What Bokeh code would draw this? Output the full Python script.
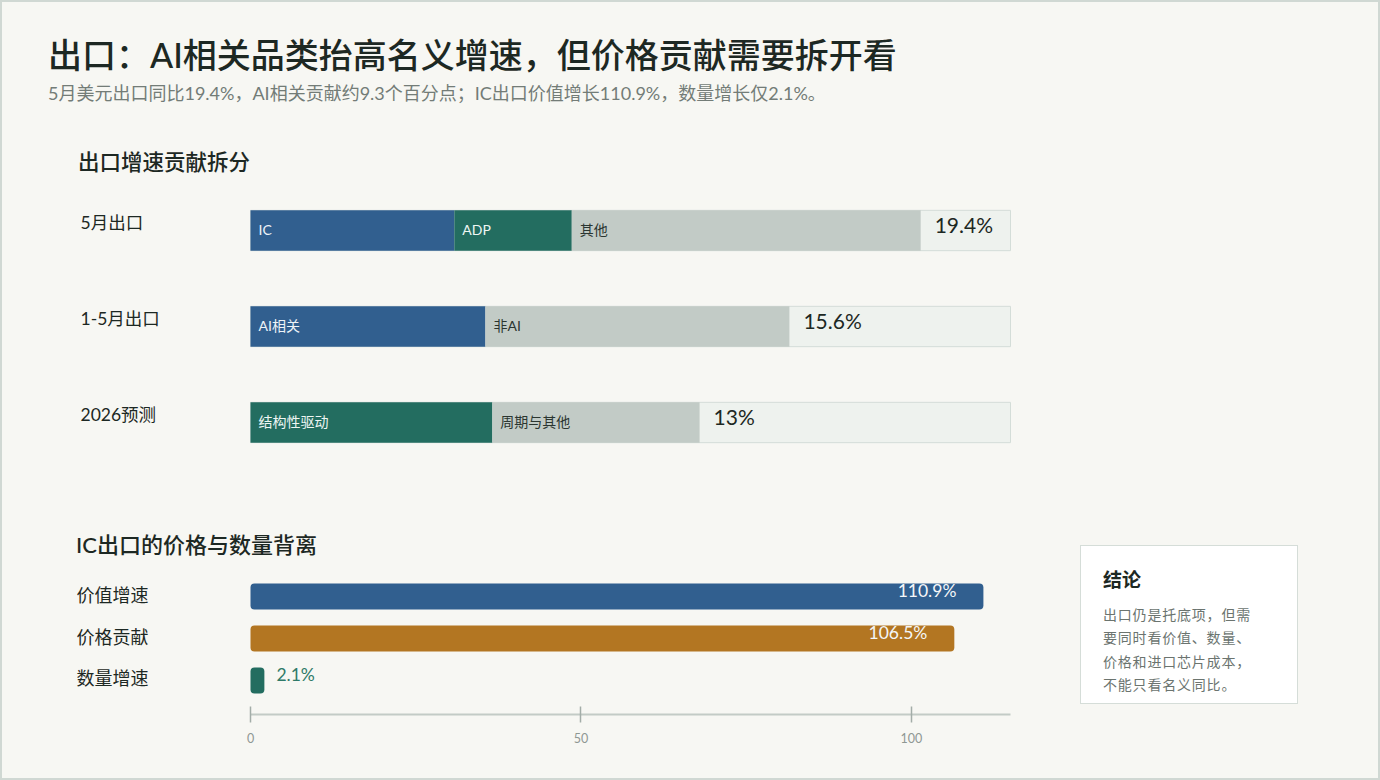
import pandas as pd
from bokeh.plotting import figure
from bokeh.models import ColumnDataSource, FactorRange, Range1d, FixedTicker, Div
from bokeh.layouts import column, row
from bokeh.core.properties import value
from bokeh.embed import file_html
from bokeh.resources import INLINE

# ---------------- data ----------------
title_text = "出口：AI相关品类抬高名义增速，但价格贡献需要拆开看"
subtitle_text = "5月美元出口同比19.4%，AI相关贡献约9.3个百分点；IC出口价值增长110.9%，数量增长仅2.1%。"
section1_title = "出口增速贡献拆分"
section2_title = "IC出口的价格与数量背离"

rows_top = ["5月出口", "1-5月出口", "2026预测"]
totals_top = [19.4, 15.6, 13.0]
total_labels = ["19.4%", "15.6%", "13%"]

seg_rows = ["5月出口", "5月出口", "5月出口", "1-5月出口", "1-5月出口", "2026预测", "2026预测"]
seg_names = ["IC", "ADP", "其他", "AI相关", "非AI", "结构性驱动", "周期与其他"]
seg_values = [5.9, 3.4, 10.1, 6.8, 8.8, 7.0, 6.0]
seg_kind = ["blue", "green", "gray", "blue", "gray", "green", "gray"]
track_max = 22

ic_cats = ["价值增速", "价格贡献", "数量增速"]
ic_values = [110.9, 106.5, 2.1]
ic_labels = ["110.9%", "106.5%", "2.1%"]
ic_kind = ["blue", "orange", "green"]
ic_ticks = [0, 50, 100]
ic_axis_max = 115

conclusion_title = "结论"
conclusion_lines = ["出口仍是托底项，但需", "要同时看价值、数量、", "价格和进口芯片成本，", "不能只看名义同比。"]

# ---------------- style ----------------
FONT = "Lato, 'Noto Sans CJK SC', sans-serif"
BG = "#f7f7f3"
FRAME = "#d0d8d3"
DARK = "#1d2823"
MUTED = "#737c77"
FILL = {"blue": "#315f8f", "green": "#236d60", "gray": "#c2cbc6", "orange": "#b37622"}
SEG_TXT = {"blue": "#eef3f8", "green": "#eef6f3", "gray": "#2b3631"}
TRACK = "#eef2ee"
TRACK_LINE = "#d4ddd8"

PAGE_W, PAGE_H = 1380, 780
INSET = 2                     # page frame thickness
W = PAGE_W - 2 * INSET        # inner width
X0_PX = 250 - INSET           # pixel position of value 0 inside the figures
TRACK_PX = 760                # pixel width of the value scale
H_HEAD = 182 - INSET
H_TOP = 288
H_SEC2 = 92
H_BOT = PAGE_H - INSET - 182 - H_TOP - H_SEC2

# ---------------- header ----------------
header = Div(
    text=f"""<div style="font-family:{FONT};">
<div style="margin:33px 0 0 46px;font-size:34px;line-height:40px;color:{DARK};white-space:nowrap;font-weight:500;">{title_text}</div>
<div style="margin:6px 0 0 46px;font-size:18px;line-height:24px;color:{MUTED};white-space:nowrap;">{subtitle_text}</div>
<div style="margin:43px 0 0 76px;font-size:21.5px;line-height:28px;color:{DARK};white-space:nowrap;font-weight:500;">{section1_title}</div>
</div>""",
    width=W, height=H_HEAD, margin=(INSET, INSET, 0, INSET),
)

# ---------------- top stacked bars ----------------
df = pd.DataFrame({"row": seg_rows, "name": seg_names, "val": seg_values, "kind": seg_kind})
df["right"] = df.groupby("row", sort=False)["val"].cumsum()
df["left"] = df["right"] - df["val"]
df["fill"] = df["kind"].map(FILL)
df["tcolor"] = df["kind"].map(SEG_TXT)
src = ColumnDataSource(df)

sc = TRACK_PX / track_max
pt = figure(
    width=W, height=H_TOP,
    x_range=Range1d(-X0_PX / sc, (W - X0_PX) / sc),
    y_range=FactorRange(factors=rows_top[::-1], range_padding=0),
    x_axis_type=None, y_axis_type=None,
    output_backend="svg", toolbar_location=None,
    min_border=0, background_fill_color=BG, border_fill_color=BG,
    outline_line_color=None, margin=(0, INSET, 0, INSET),
)
pt.grid.visible = False
pt.hbar(y=rows_top, left=0, right=track_max, height=0.42,
        fill_color=TRACK, line_color=TRACK_LINE, line_width=1)
pt.hbar(y="row", left="left", right="right", height=0.42,
        fill_color="fill", line_color=None, source=src)
pt.text(x="left", y="row", text="name", source=src, x_offset=8, y_offset=-1,
        text_align="left", text_baseline="middle", text_color="tcolor",
        text_font_size="14px", text_font=value(FONT))
pt.text(x=totals_top, y=rows_top, text=total_labels, x_offset=14, y_offset=-6,
        text_align="left", text_baseline="middle", text_color=DARK,
        text_font_size="21px", text_font=value(FONT))
pt.text(x=[0] * len(rows_top), y=rows_top, text=rows_top, x_offset=-170, y_offset=-8,
        text_align="left", text_baseline="middle", text_color=DARK,
        text_font_size="17.5px", text_font=value(FONT))

# ---------------- bottom bars ----------------
BW = 1050 - INSET
sec2 = Div(
    text=f"""<div style="font-family:{FONT};margin:61px 0 0 74px;font-size:22px;line-height:28px;color:{DARK};white-space:nowrap;font-weight:500;">{section2_title}</div>""",
    width=BW, height=H_SEC2, margin=(0, 0, 0, 0),
)

sb = TRACK_PX / ic_axis_max
pb = figure(
    width=BW, height=H_BOT,
    x_range=Range1d(-X0_PX / sb, (BW - X0_PX) / sb),
    y_range=FactorRange(factors=ic_cats[::-1], range_padding=0.31, range_padding_units="absolute"),
    y_axis_type=None,
    output_backend="svg", toolbar_location=None,
    min_border_left=0, min_border_right=0, min_border_top=0, min_border_bottom=H_BOT - 152,
    background_fill_color=BG, border_fill_color=BG, outline_line_color=None,
)
pb.grid.visible = False
ic_df = pd.DataFrame({"cat": ic_cats, "val": ic_values, "label": ic_labels,
                      "fill": [FILL[k] for k in ic_kind]})
pb.hbar(y="cat", left=0, right="val", height=0.62, fill_color="fill", line_color=None,
        border_radius=4, source=ColumnDataSource(ic_df))
inside = ic_df[ic_df["val"] > 20]
outside = ic_df[ic_df["val"] <= 20]
pb.text(x="val", y="cat", text="label", source=ColumnDataSource(inside),
        x_offset=-27, y_offset=-6, text_align="right", text_baseline="middle",
        text_color="#f4f6f8", text_font_size="17.5px", text_font=value(FONT))
pb.text(x="val", y="cat", text="label", source=ColumnDataSource(outside),
        x_offset=12, y_offset=-6, text_align="left", text_baseline="middle",
        text_color="#2f7a68", text_font_size="17.5px", text_font=value(FONT))
pb.text(x=[0] * len(ic_cats), y=ic_cats, text=ic_cats, x_offset=-174, y_offset=-2,
        text_align="left", text_baseline="middle", text_color=DARK,
        text_font_size="18px", text_font=value(FONT))

ax = pb.xaxis[0]
ax.ticker = FixedTicker(ticks=ic_ticks)
ax.bounds = (0, ic_axis_max)
ax.axis_line_color = "#c3cbc6"
ax.axis_line_width = 2
ax.major_tick_line_color = "#a3ada8"
ax.major_tick_line_width = 1.5
ax.major_tick_in = 8
ax.major_tick_out = 8
ax.minor_tick_line_color = None
ax.major_label_standoff = 10
ax.major_label_text_color = "#8f9893"
ax.major_label_text_font_size = "12.5px"
ax.major_label_text_font = FONT

# ---------------- conclusion box ----------------
concl = Div(
    text=f"""<div style="font-family:{FONT};margin:75px 0 0 30px;width:218px;height:159px;box-sizing:border-box;background:#ffffff;border:1px solid #d5ddd8;padding:22px 22px;">
<div style="font-size:19px;line-height:24px;font-weight:700;color:{DARK};">{conclusion_title}</div>
<div style="margin-top:11px;font-size:14px;line-height:23.3px;letter-spacing:0.8px;color:#6b746f;white-space:nowrap;">{'<br>'.join(conclusion_lines)}</div>
</div>""",
    width=W - BW, height=H_SEC2 + H_BOT, margin=(0, 0, 0, 0),
)

layout = column(
    header, pt, row(column(sec2, pb), concl, margin=(0, INSET, INSET, INSET)),
    width=PAGE_W, height=PAGE_H,
    styles={"background-color": BG, "box-shadow": f"inset 0 0 0 {INSET}px {FRAME}"},
)

open("out.html", "w").write(file_html(layout, INLINE))
